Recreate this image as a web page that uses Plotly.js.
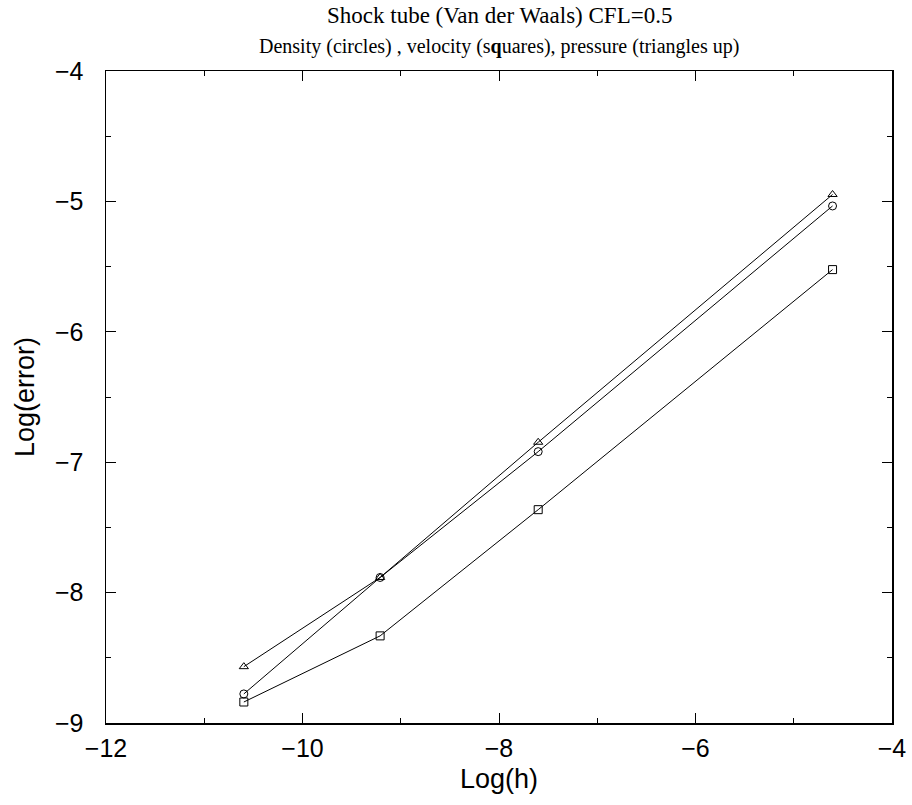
<!DOCTYPE html>
<html>
<head>
<meta charset="utf-8">
<script src="https://cdn.plot.ly/plotly-3.0.1.min.js"></script>
<style>html,body{margin:0;padding:0;background:#fff;}</style>
</head>
<body>
<div id="chart" style="width:912px;height:805px;"></div>
<script>
const logH = [-10.597, -9.210, -7.601, -4.605];
const density = [-8.777, -7.884, -6.919, -5.035];
const velocity = [-8.839, -8.332, -7.364, -5.523];
const pressure = [-8.568, -7.884, -6.847, -4.947];
const xTicks = [-12, -10, -8, -6, -4];
const yTicks = [-9, -8, -7, -6, -5, -4];

function series(name, y, symbol) {
  return {
    x: logH, y: y, name: name, type: 'scatter', mode: 'lines+markers',
    line: {color: '#000', width: 1},
    marker: {symbol: symbol, size: 8, color: '#000', line: {color: '#000', width: 1}},
    cliponaxis: false
  };
}

const data = [
  series('Density', density, 'circle-open'),
  series('Velocity', velocity, 'square-open'),
  series('Pressure', pressure, 'triangle-up-open')
];

const sans = 'Liberation Sans, Arial, sans-serif';
const axisCommon = {
  showgrid: false, zeroline: false, showline: true, linecolor: '#000', linewidth: 1.5,
  mirror: 'ticks', ticks: 'inside', ticklen: 10, tickwidth: 1, tickcolor: '#000',
  tickfont: {family: sans, size: 25, color: '#000'}
};

const layout = {
  width: 912, height: 805,
  margin: {l: 106, r: 20, t: 71, b: 82},
  paper_bgcolor: '#fff', plot_bgcolor: '#fff',
  showlegend: false,
  xaxis: Object.assign({}, axisCommon, {
    range: [-12, -4], tickvals: xTicks, ticktext: xTicks.map(v => v < 0 ? '\u2212' + Math.abs(v) : String(v)),
    minor: {ticks: 'inside', ticklen: 5, dtick: 1, tick0: 0, tickcolor: '#000', tickwidth: 1},
    ticklabelstandoff: 2,
    title: {text: 'Log(h)', font: {family: sans, size: 27, color: '#000'}, standoff: 8}
  }),
  yaxis: Object.assign({}, axisCommon, {
    range: [-9, -4], tickvals: yTicks, ticktext: yTicks.map(v => v < 0 ? '\u2212' + Math.abs(v) : String(v)),
    minor: {ticks: 'inside', ticklen: 5, dtick: 0.5, tick0: 0, tickcolor: '#000', tickwidth: 1},
    ticklabelstandoff: 16,
    title: {text: 'Log(error)', font: {family: sans, size: 27, color: '#000'}, standoff: 12}
  }),
  annotations: [
    {text: 'Shock tube (Van der Waals) CFL=0.5', xref: 'paper', yref: 'paper', x: 0.5, y: 1, yshift: 56,
     xanchor: 'center', yanchor: 'middle', showarrow: false,
     font: {family: 'Liberation Serif, Times New Roman, serif', size: 23, color: '#000'}},
    {text: 'Density (circles) , velocity (s<b>q</b>uares), pressure (triangles up)', xref: 'paper', yref: 'paper',
     x: 0.5, y: 1, yshift: 25, xanchor: 'center', yanchor: 'middle', showarrow: false,
     font: {family: 'Liberation Serif, Times New Roman, serif', size: 20, color: '#000'}}
  ]
};

Plotly.newPlot('chart', data, layout, {displayModeBar: false, staticPlot: true});
</script>
</body>
</html>
